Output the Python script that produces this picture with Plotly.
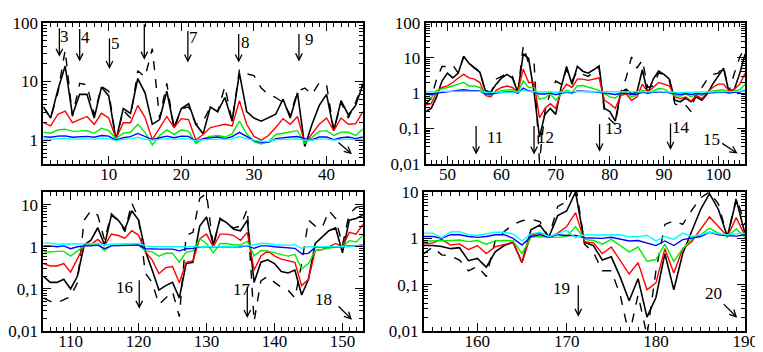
import plotly.graph_objects as go
import numpy as np

# ---- panel 1 (top left) ----
p1_x = list(range(1, 46))
p1_dashed = [3.67, 2.38, 6.4, 34, 2.53, 9.28, 8.73, 2.69, 8.2, 6.8, 1.0, 3.24, 2.38, 15.2, 11.9, 36.2,
             2.38, 9.28, 1.54, 3.45, 3.67, 1.86, 2.1, 3.67, 3.05, 8.2, 2.1, 15.6, 13.5, 12.6, 7.7, 6.02,
             5.32, 4.4, 2.69, 6.8, 7.7, 6.02, 9.5, 8.73, 1.45, 4.4, 2.38, 4.4, 9.28]
p1_black = [3.67, 2.38, 7.25, 18.3, 2.69, 6.02, 6.02, 2.38, 8.0, 5.66, 1.0, 3.45, 2.86, 11.2, 6.4, 1.86,
            2.24, 6.8, 1.64, 3.45, 4.15, 1.86, 1.28, 3.67, 3.05, 5.32, 2.1, 13.8, 3.05, 2.38, 2.1, 2.44,
            2.76, 5.0, 2.38, 6.4, 0.78, 1.86, 3.9, 6.02, 1.45, 4.7, 2.69, 3.9, 8.73]
p1_red = [1.98, 1.75, 2.76, 3.12, 1.98, 2.24, 2.53, 1.86, 2.86, 2.38, 1.06, 1.98, 1.98, 3.9, 2.44, 1.02,
          1.64, 2.53, 1.64, 2.32, 2.24, 1.0, 1.25, 1.64, 1.75, 1.86, 1.75, 4.7, 1.86, 1.16, 1.0, 1.2,
          1.64, 2.32, 1.86, 2.53, 0.88, 1.28, 1.86, 2.38, 1.45, 2.38, 1.86, 1.9, 3.05]
p1_green = [1.36, 1.31, 1.49, 1.54, 1.41, 1.41, 1.45, 1.31, 1.6, 1.45, 1.06, 1.31, 1.36, 1.86, 1.36, 0.83,
            1.2, 1.49, 1.25, 1.5, 1.41, 0.88, 1.06, 1.16, 1.2, 1.13, 1.28, 2.1, 1.28, 0.94, 0.86, 0.94,
            1.25, 1.31, 1.36, 1.45, 0.88, 1.13, 1.41, 1.45, 1.2, 1.36, 1.36, 1.2, 1.54]
p1_blue = [1.15, 1.12, 1.17, 1.18, 1.12, 1.15, 1.16, 1.12, 1.2, 1.17, 1.0, 1.1, 1.15, 1.3, 1.15, 1.02,
           1.1, 1.17, 1.1, 1.17, 1.16, 0.95, 1.06, 1.1, 1.13, 1.06, 1.15, 1.36, 1.15, 0.98, 0.92, 0.92,
           1.06, 1.1, 1.13, 1.15, 1.06, 1.02, 1.13, 1.13, 1.02, 1.1, 1.13, 1.06, 1.13]
p1_cyan = [1.05, 1.03, 1.06, 1.07, 1.04, 1.05, 1.05, 1.03, 1.08, 1.06, 0.98, 1.03, 1.05, 1.12, 1.04, 1.0,
           1.03, 1.06, 1.03, 1.06, 1.05, 0.97, 1.02, 1.03, 1.04, 1.02, 1.05, 1.15, 1.05, 1.0, 0.95, 0.95,
           1.02, 1.03, 1.04, 1.05, 1.0, 1.0, 1.04, 1.04, 1.0, 1.03, 1.04, 1.02, 1.04]

# ---- panel 2 (top right) ----
p2_x = list(range(46, 106))
p2_dashed = [0.5, 0.7, 2.5, 5.7, 5.7, 6.3, 3.7, 10.6, 7.0, 5.1, 4.2, 1.06, 0.96, 2.5, 3.0, 3.7, 3.0, 1.06,
             22, 7.0, 7.8, 0.011, 0.3, 1.06, 2.2, 1.8, 4.6, 2.2, 4.2, 3.4, 3.0, 4.2, 5.5, 0.3, 0.18, 0.13,
             1.06, 2.7, 10.6, 5.1, 8.7, 1.45, 1.6, 3.7, 3.4, 2.2, 0.5, 0.42, 0.46, 0.3, 1.2, 1.45, 2.5,
             3.4, 3.7, 5.7, 1.06, 3.7, 10.6, 20]
p2_black = [0.3, 0.37, 0.78, 2.2, 3.7, 2.7, 3.7, 11.1, 7.0, 5.1, 3.9, 1.18, 1.06, 1.8, 2.7, 3.4, 2.7, 1.06,
            13.1, 9.6, 1.06, 0.057, 0.25, 0.37, 0.25, 1.46, 5.7, 1.8, 5.7, 4.2, 3.7, 4.6, 5.9, 0.37, 0.3,
            0.16, 1.06, 1.3, 0.96, 1.06, 4.6, 0.96, 2.5, 4.2, 3.4, 2.5, 0.63, 0.57, 0.73, 0.57, 0.78, 0.63,
            0.96, 1.8, 3.0, 5.1, 1.06, 1.3, 3.7, 13]
p2_red = [0.46, 0.5, 1.06, 1.45, 1.6, 2.0, 2.7, 3.4, 2.7, 2.5, 2.0, 0.86, 0.78, 1.2, 1.45, 1.6, 1.45, 1.06,
          4.8, 2.0, 2.0, 0.2, 0.37, 0.5, 0.37, 1.06, 1.8, 1.45, 2.5, 2.5, 2.3, 2.5, 2.7, 0.63, 0.5, 0.37,
          0.86, 0.96, 0.63, 0.78, 1.8, 1.06, 1.45, 2.0, 1.8, 1.6, 0.78, 0.7, 0.78, 0.6, 0.86, 0.7, 1.06,
          1.45, 1.8, 1.8, 1.18, 1.3, 1.8, 3.7]
p2_green = [0.73, 0.73, 1.2, 1.3, 1.45, 1.6, 1.8, 2.0, 1.6, 1.6, 1.45, 0.9, 0.86, 1.05, 1.2, 1.25, 1.25,
            1.06, 2.2, 1.45, 1.45, 0.67, 0.73, 0.96, 0.63, 0.96, 1.2, 1.06, 1.6, 1.65, 1.5, 1.35, 1.2,
            0.96, 0.78, 0.73, 0.96, 1.06, 0.78, 0.9, 1.2, 1.06, 1.15, 1.35, 1.3, 1.06, 0.86, 0.82, 0.96,
            0.78, 0.96, 0.86, 1.06, 1.15, 1.2, 1.25, 1.06, 1.15, 1.25, 1.8]
p2_blue = [0.95, 0.9, 1.0, 1.05, 1.1, 1.15, 1.2, 1.25, 1.2, 1.2, 1.15, 0.95, 0.95, 1.0, 1.05, 1.1, 1.1, 1.0,
           1.4, 1.15, 1.1, 0.95, 0.95, 1.0, 0.9, 1.0, 1.05, 1.0, 1.15, 1.15, 1.1, 1.1, 1.05, 1.0, 0.95,
           0.92, 0.98, 1.0, 0.92, 0.95, 1.05, 1.0, 1.05, 1.1, 1.1, 1.02, 0.95, 0.92, 0.98, 0.92, 0.98,
           0.95, 1.0, 1.05, 1.05, 1.08, 1.0, 1.05, 1.08, 1.2]
p2_cyan = [1.1, 1.08, 1.1, 1.12, 1.12, 1.12, 1.14, 1.15, 1.14, 1.13, 1.12, 1.05, 1.05, 1.08, 1.1, 1.1,
           1.1, 1.08, 1.2, 1.12, 1.1, 1.08, 1.08, 1.1, 1.05, 1.08, 1.1, 1.08, 1.12, 1.12, 1.1, 1.1, 1.1,
           1.08, 1.06, 1.05, 1.08, 1.1, 1.06, 1.08, 1.1, 1.08, 1.1, 1.12, 1.12, 1.08, 1.06, 1.05, 1.08,
           1.05, 1.08, 1.06, 1.08, 1.1, 1.1, 1.12, 1.08, 1.1, 1.12, 1.15]

# ---- panel 3 (bottom left) ----
p3_x = list(range(106, 154))
p3_dashed = [0.061, 0.051, 0.047, 0.056, 0.066, 0.14, 4.3, 7.2, 5.6, 1.43, 6.1, 4.3, 2.3, 11, 4.7, 0.24,
             0.14, 0.043, 0.061, 0.086, 0.022, 1.85, 2.2, 14, 18.5, 1.0, 4.7, 3.4, 2.8, 3.1, 7.9, 0.017,
             0.156, 0.2, 0.143, 0.11, 0.094, 0.061, 0.4, 4.3, 3.1, 2.8, 7.2, 4.7, 1.1, 6.1, 8.6, 9.3]
p3_black = [0.2, 0.143, 0.143, 0.17, 0.1, 0.2, 1.1, 1.43, 2.83, 1.1, 5.6, 4.3, 2.6, 7.2, 4.3, 0.79, 0.28,
            0.094, 0.12, 0.143, 0.061, 0.4, 0.43, 3.1, 5.1, 1.1, 4.7, 3.7, 2.6, 2.4, 4.3, 0.143, 0.43,
            0.49, 0.4, 0.26, 0.24, 0.28, 0.072, 0.17, 1.2, 1.7, 2.4, 2.8, 0.72, 4.3, 4.7, 5.6]
p3_red = [0.4, 0.35, 0.35, 0.4, 0.25, 0.51, 1.07, 1.15, 1.5, 1.07, 2.0, 1.85, 1.6, 2.4, 1.9, 0.76, 0.49,
          0.23, 0.32, 0.34, 0.14, 0.43, 0.46, 1.56, 2.0, 1.0, 2.0, 2.0, 1.85, 1.43, 2.2, 0.28, 0.61, 0.79,
          0.61, 0.51, 0.46, 0.43, 0.12, 0.17, 0.81, 0.86, 1.0, 1.2, 1.0, 2.2, 2.0, 3.4]
p3_green = [0.76, 0.75, 0.78, 0.78, 0.6, 0.8, 1.05, 1.1, 1.2, 0.8, 1.1, 1.1, 1.15, 1.2, 1.1, 0.8, 0.76,
            0.6, 0.7, 0.7, 0.43, 0.75, 0.8, 1.56, 1.2, 0.72, 1.2, 1.2, 1.1, 1.1, 1.36, 0.61, 0.82, 0.79,
            0.72, 0.66, 0.6, 0.66, 0.3, 0.4, 0.82, 0.86, 0.92, 1.0, 1.0, 1.4, 1.3, 1.85]
p3_blue = [1.05, 1.05, 1.0, 1.05, 0.9, 1.0, 1.05, 1.05, 1.1, 0.9, 1.05, 1.06, 1.08, 1.1, 1.1, 0.9, 0.88,
           0.88, 0.88, 0.88, 0.8, 0.9, 0.92, 1.0, 1.0, 1.0, 1.02, 1.02, 1.0, 1.0, 1.05, 0.92, 1.05, 1.05,
           1.0, 0.98, 0.95, 0.92, 0.68, 0.7, 0.98, 0.98, 1.0, 1.0, 1.0, 1.05, 1.05, 1.1]
p3_cyan = [1.22, 1.22, 1.15, 1.15, 1.15, 1.15, 1.15, 1.18, 1.2, 1.1, 1.15, 1.15, 1.18, 1.18, 1.2, 1.05,
           1.0, 1.0, 1.02, 1.0, 1.0, 1.02, 1.0, 1.02, 1.0, 0.98, 1.0, 1.02, 1.02, 1.05, 1.05, 1.12, 1.2,
           1.2, 1.12, 1.1, 1.08, 1.12, 0.92, 1.0, 1.0, 1.0, 1.0, 1.0, 1.0, 1.02, 1.05, 1.05]

# ---- panel 4 (bottom right) ----
p4_x = list(range(154, 191))
p4_dashed = [0.47, 0.65, 0.44, 0.42, 0.34, 0.2, 0.25, 0.15, 0.88, 1.4, 2.0, 2.4, 2.6, 2.3, 1.06, 4.9, 6.2,
             15, 0.75, 0.5, 0.2, 0.2, 0.06, 0.008, 0.06, 0.008, 0.2, 2.0, 2.4, 2.0, 4.0, 7.5, 10, 5.5,
             1.06, 7.5, 2.0]
p4_black = [0.7, 0.7, 0.67, 0.6, 0.63, 0.33, 0.37, 0.24, 0.51, 0.7, 0.82, 0.3, 1.53, 1.93, 1.06, 3.1, 3.9,
            10, 0.82, 0.7, 0.34, 0.4, 0.146, 0.045, 0.135, 0.02, 0.053, 0.47, 0.078, 0.47, 1.41, 4.2,
            9.2, 4.2, 1.1, 6.8, 1.2]
p4_red = [0.75, 0.8, 0.95, 0.72, 0.76, 0.57, 0.7, 0.47, 0.66, 0.75, 0.82, 0.3, 1.2, 1.3, 1.05, 1.3, 1.8,
          3.6, 0.85, 0.8, 0.47, 0.65, 0.34, 0.17, 0.3, 0.078, 0.11, 0.6, 0.18, 0.6, 0.85, 1.6, 2.9, 1.8,
          1.1, 2.8, 1.1]
p4_green = [0.88, 0.88, 0.9, 0.9, 0.92, 0.85, 0.9, 0.75, 0.88, 0.9, 0.88, 0.47, 1.05, 1.1, 1.05, 1.05,
            1.1, 1.8, 0.95, 0.9, 0.75, 0.95, 0.7, 0.51, 0.65, 0.32, 0.35, 0.75, 0.32, 0.6, 0.95, 1.2,
            1.65, 1.3, 1.1, 1.6, 1.05]
p4_blue = [1.1, 1.1, 1.0, 1.2, 1.2, 1.1, 1.05, 1.1, 1.2, 1.2, 1.0, 0.72, 1.1, 1.2, 1.06, 1.2, 1.15, 1.15,
           1.03, 1.0, 1.0, 1.06, 0.97, 0.88, 0.9, 0.8, 0.7, 0.88, 0.7, 0.94, 1.0, 1.1, 1.35, 1.2, 1.15,
           1.12, 1.2]
p4_cyan = [1.3, 1.3, 1.03, 1.37, 1.4, 1.2, 1.15, 1.25, 1.35, 1.35, 1.25, 0.88, 1.25, 1.35, 1.1, 1.25,
           1.5, 1.03, 1.2, 1.18, 1.18, 1.17, 1.2, 1.08, 1.08, 1.17, 0.88, 1.1, 0.95, 1.3, 1.1, 1.2, 1.35,
           1.25, 1.2, 1.25, 1.3]

# arrow marks: (panel, x, log10 y of head, tail dx px, tail dy px)
arrows = [
    (1, 3.2, 1.42, 0, -30), (1, 6.0, 1.34, 0, -34), (1, 10.1, 1.21, 0, -32), (1, 14.9, 1.37, 0, -37),
    (1, 20.9, 1.32, 0, -33), (1, 27.9, 1.32, 0, -30), (1, 36.2, 1.34, 0, -29), (1, 43.5, -0.24, -15, -13),
    (2, 55.3, -1.74, 0, -30), (2, 66.0, -1.74, 0, -30), (2, 78.1, -1.66, 0, -29), (2, 91.2, -1.61, 0, -28),
    (2, 103.6, -1.71, -17, -11),
    (3, 120.1, -1.47, 0, -30), (3, 136.0, -1.69, 0, -33), (3, 151.4, -1.73, -15, -15),
    (4, 171.3, -1.69, 0, -33), (4, 189.1, -1.71, -15, -15),
]
# labels next to arrows: (panel, text, x, log10 y)
labels = [
    (1, '3', 3.84, 1.77), (1, '4', 6.82, 1.74), (1, '5', 10.88, 1.65), (1, '7', 21.7, 1.74),
    (1, '8', 28.9, 1.66), (1, '9', 37.7, 1.71),
    (2, '11', 58.7, -1.25), (2, '12', 68.1, -1.25), (2, '13', 80.7, -1.01), (2, '14', 93.2, -0.98),
    (2, '15', 98.8, -1.31),
    (3, '16', 117.9, -0.96), (3, '17', 135.2, -1.02), (3, '18', 147.2, -1.24),
    (4, '19', 169.4, -1.08), (4, '20', 186.4, -1.2),
]

W, H = 763, 352
FONT = 'Liberation Serif, Times New Roman, serif'
FS = 17

panels = {
    1: dict(x=p1_x, series=[p1_dashed, p1_black, p1_red, p1_green, p1_blue, p1_cyan],
            xr=[1, 45], yr=[-0.4, 2], xdom=(36, 361), ydom=(6, 155),
            xt=[10, 20, 30, 40], yt=[1, 10, 100], ytt=['1', '10', '100']),
    2: dict(x=p2_x, series=[p2_dashed, p2_black, p2_red, p2_green, p2_blue, p2_cyan],
            xr=[46, 105], yr=[-2, 2], xdom=(425, 750), ydom=(6, 155),
            xt=[50, 60, 70, 80, 90, 100], yt=[0.01, 0.1, 1, 10, 100],
            ytt=['0,01', '0,1', '1', '10', '100']),
    3: dict(x=p3_x, series=[p3_dashed, p3_black, p3_red, p3_green, p3_blue, p3_cyan],
            xr=[106, 153], yr=[-2, 1.3], xdom=(36, 361), ydom=(185, 332),
            xt=[110, 120, 130, 140, 150], yt=[0.01, 0.1, 1, 10], ytt=['0,01', '0,1', '1', '10']),
    4: dict(x=p4_x, series=[p4_dashed, p4_black, p4_red, p4_green, p4_blue, p4_cyan],
            xr=[154, 190], yr=[-2, 1], xdom=(423, 750), ydom=(185, 332),
            xt=[160, 170, 180, 190], yt=[0.01, 0.1, 1, 10], ytt=['0,01', '0,1', '1', '10']),
}

styles = [
    dict(color='black', width=1.4, dash='dash'),
    dict(color='black', width=1.6),
    dict(color='#ff0000', width=1.4),
    dict(color='#00ee00', width=1.4),
    dict(color='#0000ff', width=1.4),
    dict(color='#00ffff', width=1.4),
]

fig = go.Figure()
layout = {}

for k, p in panels.items():
    xa = 'x' if k == 1 else f'x{k}'
    ya = 'y' if k == 1 else f'y{k}'
    for vals, st in zip(p['series'], styles):
        fig.add_trace(go.Scatter(x=p['x'], y=vals, mode='lines', line=st,
                                 xaxis=xa, yaxis=ya, showlegend=False, hoverinfo='skip'))

    lo, hi = int(np.floor(p['yr'][0])), int(np.ceil(p['yr'][1]))
    minor_y = [m * 10 ** e for e in range(lo, hi) for m in range(2, 10)]
    axis_common = dict(showline=True, linecolor='black', linewidth=2, mirror='ticks',
                       ticks='inside', ticklen=8, tickwidth=1.3, tickcolor='black',
                       showgrid=False, zeroline=False,
                       tickfont=dict(family=FONT, size=FS, color='black'))
    xkey = 'xaxis' if k == 1 else f'xaxis{k}'
    ykey = 'yaxis' if k == 1 else f'yaxis{k}'
    layout[xkey] = dict(axis_common, range=p['xr'], anchor=ya,
                        domain=[p['xdom'][0] / W, p['xdom'][1] / W],
                        tickvals=p['xt'], ticklabelstandoff=-6,
                        minor=dict(ticks='inside', ticklen=4, tickcolor='black', dtick=1, showgrid=False))
    layout[ykey] = dict(axis_common, type='log', range=p['yr'], anchor=xa,
                        domain=[1 - p['ydom'][1] / H, 1 - p['ydom'][0] / H],
                        tickvals=p['yt'], ticktext=p['ytt'],
                        minor=dict(ticks='inside', ticklen=4, tickcolor='black',
                                   tickvals=minor_y, showgrid=False))

annotations = []
for k, x, ly, ax, ay in arrows:
    xr = 'x' if k == 1 else f'x{k}'
    yr = 'y' if k == 1 else f'y{k}'
    annotations.append(dict(x=x, y=ly, xref=xr, yref=yr, ax=ax, ay=ay, text='',
                            showarrow=True, arrowhead=5, arrowsize=1, arrowwidth=1.3,
                            arrowcolor='black'))
for k, t, x, ly in labels:
    xr = 'x' if k == 1 else f'x{k}'
    yr = 'y' if k == 1 else f'y{k}'
    annotations.append(dict(x=x, y=ly, xref=xr, yref=yr, text=t, showarrow=False,
                            font=dict(family=FONT, size=FS, color='black')))

fig.update_layout(width=W, height=H, margin=dict(l=0, r=0, t=0, b=0),
                  plot_bgcolor='white', paper_bgcolor='white',
                  annotations=annotations, **layout)

fig.write_html("out.html")
